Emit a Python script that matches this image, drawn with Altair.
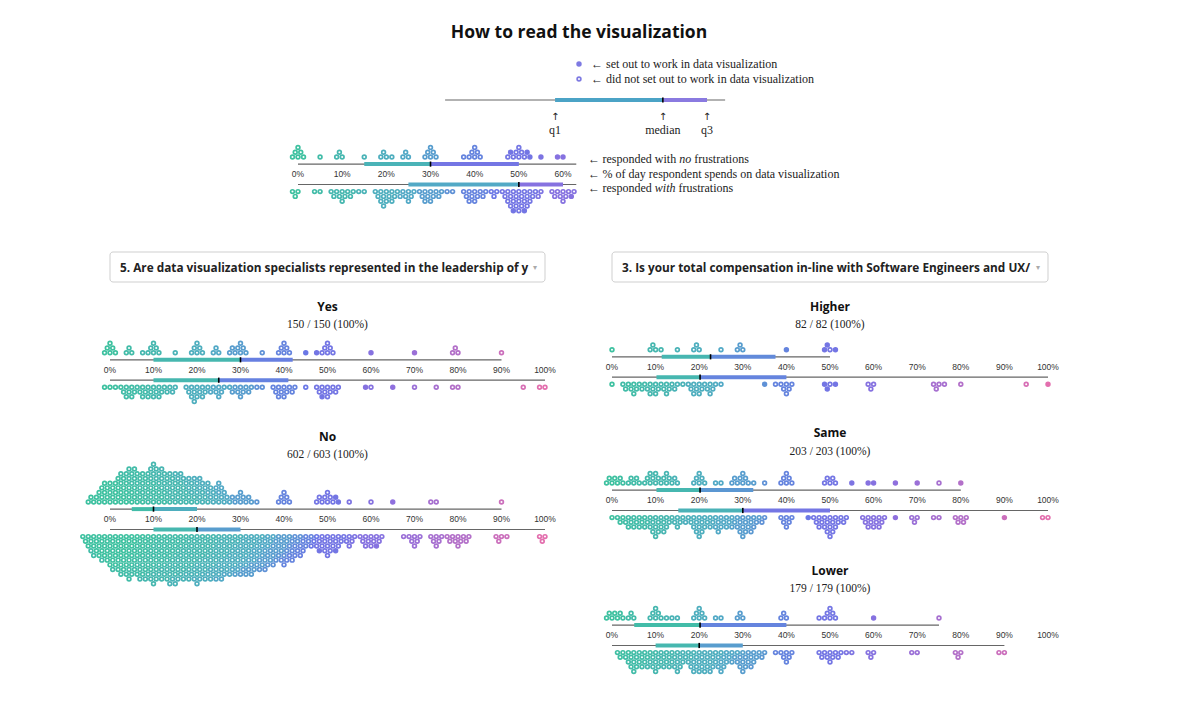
import math
import altair as alt
import pandas as pd

# ======================= DATA =======================
# "How to read" example strip (0-60 %)
HOWTO_UP_V = [0, 5, 10, 15, 20, 25, 30, 40, 50, 55, 60]
HOWTO_UP_N = [6, 1, 3, 1, 4, 3, 6, 7, 10, 1, 2]
HOWTO_UP_FILLED = [50, 50, 50, 55, 60, 60]
HOWTO_DN_V = [0, 5, 10, 15, 20, 25, 30, 35, 40, 45, 50, 55, 60]
HOWTO_DN_N = [3, 2, 10, 2, 13, 7, 11, 2, 11, 3, 25, 2, 10]
HOWTO_DN_FILLED = [50, 50, 60]
HOWTO_UP_BOX = [63, 15, 30, 50]   # line end, q1, median, q3
HOWTO_DN_BOX = [63, 25, 50, 60]
HOWTO_EXAMPLE = [33.3, 58.2, 82.6, 92.6, 96.7]  # min, q1, median, q3, max of the illustration
HOWTO_EXAMPLE_LABELS = ["q1", "median", "q3"]
HOWTO_LEGEND = ["← set out to work in data visualization",
                "← did not set out to work in data visualization"]
# each note: list of (text, style) pieces, shown after a "←"
HOWTO_NOTES = [[("responded with ", "normal"), ("no", "italic"), (" frustrations", "normal")],
               [("% of day respondent spends on data visualization", "normal")],
               [("responded ", "normal"), ("with", "italic"), (" frustrations", "normal")]]
HOWTO_TICKS = [0, 10, 20, 30, 40, 50, 60]

QUESTIONS = ["5. Are data visualization specialists represented in the leadership of y",
             "3. Is your total compensation in-line with Software Engineers and UX/"]
TICKS = [0, 10, 20, 30, 40, 50, 60, 70, 80, 90, 100]

# Yes
YES_UP_V = [0, 5, 10, 15, 20, 25, 30, 35, 40, 45, 50, 60, 70, 80, 90]
YES_UP_N = [6, 3, 7, 1, 6, 3, 8, 1, 6, 1, 7, 1, 1, 3, 1]
YES_UP_FILLED = [45, 50, 60, 70]
YES_DN_V = [0, 2, 4, 5, 7, 8, 10, 12, 15, 20, 25, 30, 35, 40, 45, 50, 60, 65, 70, 75, 80, 95, 100]
YES_DN_N = [2, 2, 3, 7, 3, 3, 6, 2, 2, 13, 8, 9, 2, 11, 1, 11, 2, 1, 1, 1, 2, 1, 2]
YES_DN_FILLED = [50, 60, 65]
YES_UP_BOX = [90, 10, 30, 42]
YES_DN_BOX = [100, 10, 25, 41]

# No
NO_UP_V = [0, 1, 2, 3, 5, 7, 8, 10, 12, 15, 18, 20, 22, 25, 30, 33, 40, 50, 55, 60, 65, 75, 90]
NO_UP_N = [28, 3, 8, 4, 32, 3, 4, 30, 4, 15, 3, 12, 2, 7, 9, 1, 6, 10, 1, 1, 1, 2, 1]
NO_UP_FILLED = [50, 50, 65]
NO_DN_V = [0, 1, 2, 3, 5, 7, 8, 10, 12, 15, 18, 20, 22, 25, 28, 30, 33, 35, 38, 40, 42, 45,
           50, 52, 55, 60, 70, 75, 80, 90, 100]
NO_DN_N = [44, 5, 16, 7, 48, 6, 8, 48, 8, 36, 4, 36, 3, 20, 3, 26, 3, 10, 3, 12, 2, 3,
           20, 2, 3, 12, 7, 6, 10, 4, 3]
NO_DN_FILLED = [50, 50, 60]
NO_UP_BOX = [90, 5, 10, 20]
NO_DN_BOX = [100, 10, 20, 30]

# Higher
HIGHER_UP_V = [0, 10, 15, 20, 25, 30, 40, 50]
HIGHER_UP_N = [1, 4, 1, 3, 1, 3, 1, 4]
HIGHER_UP_FILLED = [40, 50, 50, 50]
HIGHER_DN_V = [0, 4, 5, 7, 10, 12, 15, 20, 22, 25, 35, 40, 50, 60, 75, 80, 95, 100]
HIGHER_DN_N = [1, 3, 5, 3, 9, 3, 3, 11, 3, 1, 1, 7, 4, 3, 4, 1, 1, 1]
HIGHER_DN_FILLED = [35, 50, 50, 50, 100]
HIGHER_UP_BOX = [50, 11.4, 22.6, 37.5]
HIGHER_DN_BOX = [100, 10.2, 20.2, 40]

# Same
SAME_UP_V = [0, 2, 5, 8, 10, 12, 15, 20, 25, 30, 35, 40, 50, 55, 60, 65, 70, 75, 80]
SAME_UP_N = [5, 2, 5, 3, 8, 3, 2, 6, 2, 9, 1, 6, 5, 1, 2, 1, 1, 1, 1]
SAME_UP_FILLED = [55, 60, 60, 65, 70, 80]
SAME_DN_V = [0, 2, 5, 7, 10, 12, 15, 18, 20, 22, 25, 28, 30, 32, 35, 40, 45, 50, 60, 65,
             70, 75, 80, 90, 100]
SAME_DN_N = [1, 3, 10, 4, 12, 4, 5, 3, 13, 3, 10, 3, 13, 3, 2, 6, 1, 20, 12, 1, 3, 2, 5, 1, 2]
SAME_DN_FILLED = [45, 65, 90]
SAME_UP_BOX = [80, 10.2, 20.2, 32.4]
SAME_DN_BOX = [100, 15.2, 30, 50]

# Lower
LOWER_UP_V = [0, 2, 5, 10, 12, 15, 20, 25, 30, 40, 50, 60, 75]
LOWER_UP_N = [5, 2, 3, 6, 1, 2, 6, 2, 3, 3, 7, 1, 1]
LOWER_UP_FILLED = [60]
LOWER_DN_V = [2, 4, 5, 7, 10, 12, 15, 18, 20, 22, 25, 28, 30, 32, 40, 50, 55, 60, 70, 80, 90]
LOWER_DN_N = [4, 3, 12, 4, 14, 5, 11, 3, 18, 4, 10, 3, 14, 3, 7, 10, 2, 3, 2, 3, 2]
LOWER_DN_FILLED = []
LOWER_UP_BOX = [75, 5.1, 20.2, 40]
LOWER_DN_BOX = [90, 10, 20, 30]

# ======================= STYLE / LAYOUT =======================
W, H = 1184, 700
D = 1.25          # lattice spacing of the swarm, in % units
LINE = 10.2       # px from tick-label line to range lines
ROW0 = 17.3       # px from tick-label line to first dot row
DOT_SIZE = 14
DOT_STROKE = 1.7
SANS = "Open Sans"
SERIF = "Liberation Serif"
NOTE_SIZE = 12
COLOR_DOMAIN = [0, 25, 45, 65, 100]
COLOR_RANGE = ["#3ec1a0", "#52a9c6", "#6b78e6", "#8f70de", "#e36fae"]

# Times-compatible advance widths (1/1000 em) used to chain regular/italic text pieces
TIMES_REG = {" ": 250, "a": 444, "d": 500, "e": 444, "f": 333, "h": 500, "i": 278, "n": 500,
             "o": 500, "p": 500, "r": 333, "s": 389, "t": 278, "u": 500, "w": 722}
TIMES_ITA = {" ": 250, "n": 500, "o": 500, "w": 667, "i": 278, "t": 278, "h": 500}

YS = alt.Scale(domain=[0, H], reverse=True, nice=False, zero=False)


def text_width(s, style):
    table = TIMES_ITA if style == "italic" else TIMES_REG
    return sum(table.get(ch, 500) for ch in s) * NOTE_SIZE / 1000


def row_cost(r):
    # stacking cost of a dot on row r (in lattice spacings)
    return 0.4 * r + 0.07 * r * r


def cscale():
    return alt.Scale(domain=COLOR_DOMAIN, range=COLOR_RANGE, interpolate="rgb")


def xscale(zero_px, pxpp):
    lo = -zero_px / pxpp
    return alt.Scale(domain=[lo, lo + W / pxpp], nice=False, zero=False)


def Y(f):
    return alt.Y(f, type="quantitative", scale=YS, axis=None)


def swarm(vals, counts, filled_vals, sign, pxpp, axis_py):
    """Stack dots on a hexagonal lattice next to their value."""
    rowh = math.sqrt(3) / 2 * D * pxpp
    occ = set()
    fl = {}
    for v in filled_vals:
        fl[v] = fl.get(v, 0) + 1
    rows = []
    top = -1
    for v, n in sorted(zip(vals, counts)):
        jc = int(round(2 * v / D))
        cands = {0: [], 1: []}
        for j in range(jc - 170, jc + 171):
            cands[j % 2].append(j)
        for p in (0, 1):
            cands[p].sort(key=lambda j: (abs(j * D / 2 - v), j))
        nf = fl.get(v, 0)
        for i in range(n):
            best = None
            r = 0
            while r <= top + 1:
                if best is not None and row_cost(r) >= best[0] - 1e-9:
                    break
                found = None
                for j in cands[r % 2]:
                    if (r, j) in occ:
                        continue
                    if r > 0 and not ((r - 1, j - 1) in occ and (r - 1, j + 1) in occ):
                        continue
                    found = j
                    break
                if found is not None:
                    cost = abs(found * D / 2 - v) / D + row_cost(r)
                    if best is None or cost < best[0] - 1e-9:
                        best = (cost, r, found)
                r += 1
            _, r, j = best
            occ.add((r, j))
            top = max(top, r)
            rows.append({"x": j * D / 2, "y": axis_py - sign * (ROW0 + r * rowh), "cv": v,
                         "filled": i >= n - nf})
    return pd.DataFrame(rows, columns=["x", "y", "cv", "filled"])


def strip_layers(upd, dnd, up_box, dn_box, ticks, xsc, pxpp, axis_py):
    X = lambda f: alt.X(f, type="quantitative", scale=xsc, axis=None)
    up = swarm(upd[0], upd[1], upd[2], 1, pxpp, axis_py)
    dn = swarm(dnd[0], dnd[1], dnd[2], -1, pxpp, axis_py)
    ya, yb = axis_py - LINE, axis_py + LINE
    lines = pd.DataFrame([{"x": 0, "x2": up_box[0], "y": ya},
                          {"x": 0, "x2": dn_box[0], "y": yb}])
    bars = pd.DataFrame([
        {"x": up_box[1], "x2": up_box[2], "y": ya, "cv": up_box[1]},
        {"x": up_box[2], "x2": up_box[3], "y": ya, "cv": up_box[3]},
        {"x": dn_box[1], "x2": dn_box[2], "y": yb, "cv": dn_box[1]},
        {"x": dn_box[2], "x2": dn_box[3], "y": yb, "cv": dn_box[3]},
    ])
    meds = pd.DataFrame([{"x": up_box[2], "y": ya - 2.6, "y2": ya + 2.6},
                         {"x": dn_box[2], "y": yb - 2.6, "y2": yb + 2.6}])
    tk = pd.DataFrame({"x": ticks, "y": [axis_py] * len(ticks),
                       "lab": [f"{t}%" for t in ticks]})
    dots = pd.concat([up, dn], ignore_index=True)
    hollow = dots[~dots["filled"].astype(bool)]
    full = dots[dots["filled"].astype(bool)]
    return [
        alt.Chart(lines).mark_rule(color="#666", strokeWidth=1.2).encode(
            x=X("x"), x2=alt.X2("x2"), y=Y("y")),
        alt.Chart(bars).mark_rule(strokeWidth=4).encode(
            x=X("x"), x2=alt.X2("x2"), y=Y("y"),
            color=alt.Color("cv:Q", scale=cscale(), legend=None)),
        alt.Chart(meds).mark_rule(color="black", strokeWidth=1.6).encode(
            x=X("x"), y=Y("y"), y2=alt.Y2("y2")),
        alt.Chart(tk).mark_text(font="Liberation Sans", fontSize=8.5, color="#333",
                                baseline="middle").encode(x=X("x"), y=Y("y"), text="lab:N"),
        alt.Chart(hollow).mark_circle(size=DOT_SIZE, opacity=1, strokeWidth=DOT_STROKE).encode(
            x=X("x"), y=Y("y"), fill=alt.value("white"),
            stroke=alt.Stroke("cv:Q", scale=cscale(), legend=None)),
        alt.Chart(full).mark_circle(size=DOT_SIZE, opacity=1, strokeWidth=DOT_STROKE).encode(
            x=X("x"), y=Y("y"),
            fill=alt.Fill("cv:Q", scale=cscale(), legend=None),
            stroke=alt.Stroke("cv:Q", scale=cscale(), legend=None)),
    ]


def panel_layers(title, subtitle, upd, dnd, up_box, dn_box, xsc, pxpp, title_py, axis_py):
    layers = strip_layers(upd, dnd, up_box, dn_box, TICKS, xsc, pxpp, axis_py)
    head = pd.DataFrame({"x": [50], "t": [title], "s": [subtitle]})
    layers.append(alt.Chart(head).mark_text(font=SANS, fontWeight="bold", fontSize=12,
                                            color="#111", baseline="middle").encode(
        x=alt.X("x:Q", scale=xsc, axis=None), y=alt.value(title_py), text="t:N"))
    layers.append(alt.Chart(head).mark_text(font=SERIF, fontSize=11.5, color="#222",
                                            baseline="middle").encode(
        x=alt.X("x:Q", scale=xsc, axis=None), y=alt.value(title_py + 18.3), text="s:N"))
    return layers


def dropdown_layers(text, xsc):
    box = pd.DataFrame({"x": [0], "x2": [100], "t": [text], "icon": ["▾"]})
    return [
        alt.Chart(box).mark_rect(fill="white", stroke="#cfcfcf", strokeWidth=1,
                                 cornerRadius=3).encode(
            x=alt.X("x:Q", scale=xsc, axis=None), x2=alt.X2("x2"),
            y=alt.value(244), y2=alt.value(274)),
        alt.Chart(box).mark_text(font=SANS, fontWeight="bold", fontSize=11.8, color="#222",
                                 align="left", baseline="middle", dx=10).encode(
            x=alt.X("x:Q", scale=xsc, axis=None), y=alt.value(259.5), text="t:N"),
        alt.Chart(box).mark_text(font="DejaVu Sans", fontSize=8, color="#aaa", align="right",
                                 baseline="middle", dx=-8).encode(
            x=alt.X("x2:Q", scale=xsc, axis=None), y=alt.value(260), text="icon:N"),
    ]


layers = []

# ---------------- header ("How to read the visualization") ----------------
HPX = 4.417
hx = xscale(290, HPX)
HX = lambda f: alt.X(f, type="quantitative", scale=hx, axis=None)
layers += strip_layers((HOWTO_UP_V, HOWTO_UP_N, HOWTO_UP_FILLED),
                       (HOWTO_DN_V, HOWTO_DN_N, HOWTO_DN_FILLED),
                       HOWTO_UP_BOX, HOWTO_DN_BOX, HOWTO_TICKS, hx, HPX, 166.3)
title_df = pd.DataFrame({"t": ["How to read the visualization"]})
layers.append(alt.Chart(title_df).mark_text(font=SANS, fontWeight="bold", fontSize=17.5,
                                            color="#111", baseline="middle").encode(
    x=alt.value(571), y=alt.value(25), text="t:N"))
leg = pd.DataFrame({"t": HOWTO_LEGEND})
for i in range(2):
    one = leg.iloc[[i]]
    layers.append(alt.Chart(one).mark_circle(size=DOT_SIZE, opacity=1, strokeWidth=DOT_STROKE,
                                             stroke="#7e7ae2",
                                             fill="#7e7ae2" if i == 0 else "white").encode(
        x=alt.value(571), y=alt.value(56 + 15 * i)))
    layers.append(alt.Chart(one).mark_text(font=SERIF, fontSize=NOTE_SIZE, color="#222",
                                           align="left", baseline="middle").encode(
        x=alt.value(583), y=alt.value(56 + 15 * i), text="t:N"))
ex = HOWTO_EXAMPLE
ex_line = pd.DataFrame({"x": [ex[0]], "x2": [ex[4]]})
ex_bar = pd.DataFrame({"x": [ex[1], ex[2]], "x2": [ex[2], ex[3]], "c": ["#4ba3c6", "#8a7ae0"]})
ex_med = pd.DataFrame({"x": [ex[2]]})
ex_lab = pd.DataFrame({"x": [ex[1], ex[2], ex[3]], "t": HOWTO_EXAMPLE_LABELS,
                       "a": ["↑", "↑", "↑"]})
layers += [
    alt.Chart(ex_line).mark_rule(color="#666", strokeWidth=1.2).encode(
        x=HX("x"), x2=alt.X2("x2"), y=alt.value(92)),
    alt.Chart(ex_bar).mark_rule(strokeWidth=4).encode(
        x=HX("x"), x2=alt.X2("x2"), y=alt.value(92), color=alt.Color("c:N", scale=None)),
    alt.Chart(ex_med).mark_rule(color="black", strokeWidth=1.6).encode(
        x=HX("x"), y=alt.value(89.4), y2=alt.value(94.6)),
    alt.Chart(ex_lab).mark_text(font="DejaVu Sans", fontSize=10, color="#222",
                                baseline="middle").encode(
        x=HX("x"), y=alt.value(109), text="a:N"),
    alt.Chart(ex_lab).mark_text(font=SERIF, fontSize=NOTE_SIZE, color="#222",
                                baseline="middle").encode(
        x=HX("x"), y=alt.value(122), text="t:N"),
]
# notes to the right of the example strip: arrow + chained regular / italic pieces
note_rows = []
for i, (yy, pieces) in enumerate(zip([151, 166, 180], HOWTO_NOTES)):
    note_rows.append({"t": "←", "x": 580, "y": yy, "style": "normal"})
    xpos = 594.5
    for txt, style in pieces:
        lead = len(txt) - len(txt.lstrip(" "))
        xpos += text_width(txt[:lead], style)
        note_rows.append({"t": txt.strip(), "x": xpos, "y": yy, "style": style})
        xpos += text_width(txt[lead:], style)
note_df = pd.DataFrame(note_rows)
for style in ("normal", "italic"):
    sub = note_df[note_df["style"] == style].reset_index(drop=True)
    for k in range(len(sub)):
        layers.append(alt.Chart(sub.iloc[[k]]).mark_text(
            font=SERIF, fontSize=NOTE_SIZE, fontStyle=style, color="#222", align="left",
            baseline="middle").encode(
            x=alt.value(float(sub.loc[k, "x"])), y=alt.value(float(sub.loc[k, "y"])),
            text="t:N"))

# ---------------- panels ----------------
LPX, RPX = 4.35, 4.36
lx = xscale(102, LPX)   # 0 % of the left column at page x 110
rx = xscale(604, RPX)   # 0 % of the right column at page x 612

layers += dropdown_layers(QUESTIONS[0], lx)
layers += dropdown_layers(QUESTIONS[1], rx)
layers += panel_layers("Yes", "150 / 150 (100%)", (YES_UP_V, YES_UP_N, YES_UP_FILLED),
                       (YES_DN_V, YES_DN_N, YES_DN_FILLED), YES_UP_BOX, YES_DN_BOX,
                       lx, LPX, 298.7, 362)
layers += panel_layers("No", "602 / 603 (100%)", (NO_UP_V, NO_UP_N, NO_UP_FILLED),
                       (NO_DN_V, NO_DN_N, NO_DN_FILLED), NO_UP_BOX, NO_DN_BOX,
                       lx, LPX, 428.7, 511.3)
layers += panel_layers("Higher", "82 / 82 (100%)", (HIGHER_UP_V, HIGHER_UP_N, HIGHER_UP_FILLED),
                       (HIGHER_DN_V, HIGHER_DN_N, HIGHER_DN_FILLED), HIGHER_UP_BOX,
                       HIGHER_DN_BOX, rx, RPX, 298.7, 359)
layers += panel_layers("Same", "203 / 203 (100%)", (SAME_UP_V, SAME_UP_N, SAME_UP_FILLED),
                       (SAME_DN_V, SAME_DN_N, SAME_DN_FILLED), SAME_UP_BOX, SAME_DN_BOX,
                       rx, RPX, 425.3, 492.3)
layers += panel_layers("Lower", "179 / 179 (100%)", (LOWER_UP_V, LOWER_UP_N, LOWER_UP_FILLED),
                       (LOWER_DN_V, LOWER_DN_N, LOWER_DN_FILLED), LOWER_UP_BOX, LOWER_DN_BOX,
                       rx, RPX, 562.7, 627.3)

chart = alt.layer(*layers).resolve_scale(x="independent").properties(
    width=W, height=H, padding=0, background="white"
).configure_view(stroke=None)

chart.save("out.html", embed_options={"renderer": "svg", "actions": False})
